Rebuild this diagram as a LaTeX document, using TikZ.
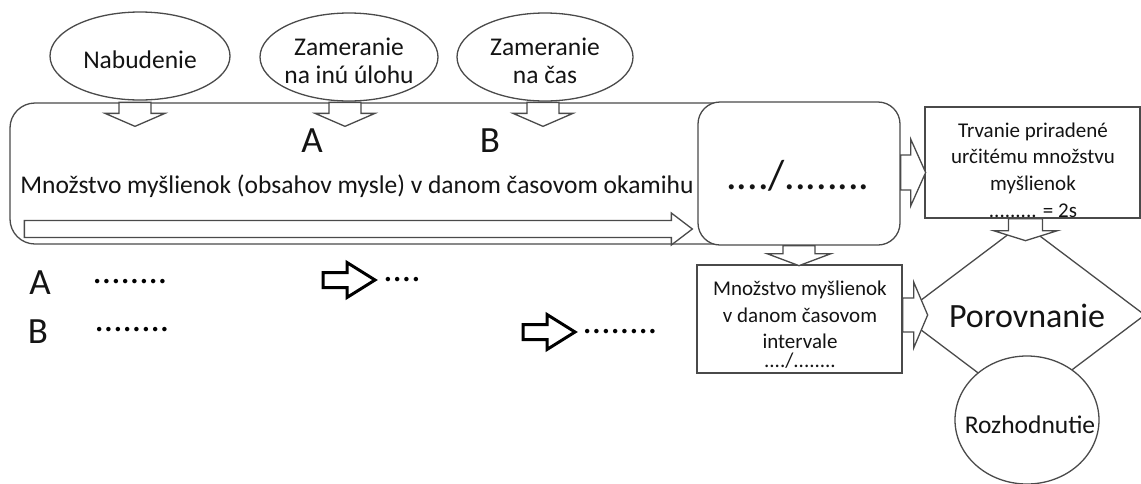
\documentclass[tikz,border=0pt]{standalone}
\usepackage{fontspec}
\setmainfont{Carlito}
\usetikzlibrary{shapes.geometric,calc}
\definecolor{lg}{HTML}{4A4A4A}
\definecolor{tx}{HTML}{141414}
\tikzset{
  pics/darrow/.style args={#1/#2/#3/#4}{code={
    \path[pic actions] (-#1,0) -- (-#1,#3) -- (-#2,#3) -- (0,#4) -- (#2,#3) -- (#1,#3) -- (#1,0) -- cycle;}},
  pics/rarrow/.style args={#1/#2/#3/#4}{code={
    \path[pic actions] (0,-#1) -- (#3,-#1) -- (#3,-#2) -- (#4,0) -- (#3,#2) -- (#3,#1) -- (0,#1) -- cycle;}},
  hol/.style={draw=lg, fill=white, line width=1.3pt, line join=miter},
  rowarr/.style={draw=black, fill=white, line width=3pt, line join=miter},
  ell/.style={draw=lg, line width=1.3pt, ellipse, minimum height=88pt, inner sep=0pt, fill=white},
  boxx/.style={draw=lg, line width=1.3pt, rectangle, inner sep=0pt, fill=white},
  t25/.style={text=tx, inner sep=0pt, anchor=base, font=\fontsize{25.5}{30}\selectfont},
  t21/.style={text=tx, inner sep=0pt, anchor=base, font=\fontsize{21}{26}\selectfont},
  big/.style={text=tx, inner sep=0pt, anchor=base, font=\fontsize{37}{40}\selectfont},
  dots/.style={text=black, inner sep=0pt, font=\fontsize{37}{40}\selectfont},
}
\begin{document}
\begin{tikzpicture}[x=1pt,y=-1pt]
\useasboundingbox (0,0) rectangle (1141,483);
\clip (0,0) rectangle (1141,483);
\fill[white] (0,0) rectangle (1141,483);

% top ellipses
\node[ell, minimum width=180pt] (e1) at (140,56) {};
\node[ell, minimum width=178pt] (e2) at (349,57) {};
\node[ell, minimum width=176pt] (e3) at (545,57) {};
\node[t25] (e1t) at (140,68) {Nabudenie};
\node[t25] (e2t1) at (349,55) {Zameranie};
\node[t25] (e2t2) at (349,83) {na inú úlohu};
\node[t25] (e3t1) at (545,55) {Zameranie};
\node[t25] (e3t2) at (545,83) {na čas};

% main rounded rectangle
\node[boxx, fill=none, rounded corners=25pt, minimum width=770pt, minimum height=141pt] (main) at (395,173.5) {};
\node[t25] (maint) at (357,193) {Množstvo myšlienok (obsahov mysle) v danom časovom okamihu};
\node[big] (A1) at (312,152) {A};
\node[big] (B1) at (490,152) {B};

% arrows from ellipses
\pic[hol] at ($(e1.south |- main.north)+(-5,0)$) {darrow=16/30/11/24};
\pic[hol] at ($(e2.south |- main.north)+(-4,0)$) {darrow=16/30/11/24};
\pic[hol] at ($(e3.south |- main.north)+(-2,0)$) {darrow=16/30/11/24};

% long arrow inside main
\pic[hol] at ($(main.west)+(15,55.5)$) {rarrow=8.5/16/647/668};

% box with ratio
\node[boxx, rounded corners=22pt, minimum width=202pt, minimum height=143pt] (b2) at (799,173.5) {};
\node[text=tx, inner sep=0pt, anchor=base, font=\fontsize{42}{46}\selectfont] (b2t) at (798,189) {..../........};

% box 3
\node[boxx, minimum width=215pt, minimum height=111pt] (b3) at (1032.5,162.5) {};
\node[t21] (b3t1) at (1033,137) {Trvanie priradené};
\node[t21] (b3t2) at (1033,163) {určitému množstvu};
\node[t21] (b3t3) at (1033,190) {myšlienok};
\node[t21] (b3t4) at (1033,217) {......... = 2s};

% diamond and circle
\node[draw=lg, line width=1.3pt, diamond, minimum width=244pt, minimum height=184pt, inner sep=0pt] (dia) at (1023,315) {};
\node[text=tx, inner sep=0pt, anchor=base, font=\fontsize{34}{38}\selectfont] (diat) at (1027,327) {Porovnanie};
\node[ell, minimum width=144pt, minimum height=128pt] (circ) at (1027,420) {};
\node[t25] (circt) at (1030,433) {Rozhodnutie};

% box 4
\node[boxx, minimum width=205pt, minimum height=108pt] (b4) at (799.5,319) {};
\node[t21] (b4t1) at (800,295) {Množstvo myšlienok};
\node[t21] (b4t2) at (800,322) {v danom časovom};
\node[t21] (b4t3) at (800,348) {intervale};
\node[t21] (b4t4) at (800,367) {..../........};

% connector arrows
\pic[hol] at ($(b2.east)+(0,-1)$) {rarrow=17.5/33.5/10/25};
\pic[hol] at (b2.south) {darrow=16/32/8/20};
\pic[hol] at ($(b3.south)+(-7,0)$) {darrow=17/32/12/22};
\pic[hol] at ($(b4.east)+(0,-4)$) {rarrow=17/33/11/25};

% rows A and B
\node[big] (A2) at (40,294) {A};
\node[big] (B2) at (38,343) {B};
\node[dots] (dA1) at (130,282) {........};
\node[dots] (dB1) at (132,330) {........};
\pic[rowarr] at (323,280) {rarrow=7.5/17.5/24/52};
\node[dots] (dA2) at (402,280) {....};
\pic[rowarr] at (523,332) {rarrow=7.5/17.5/24/52};
\node[dots] (dB2) at (620,332) {........};
\end{tikzpicture}
\end{document}
